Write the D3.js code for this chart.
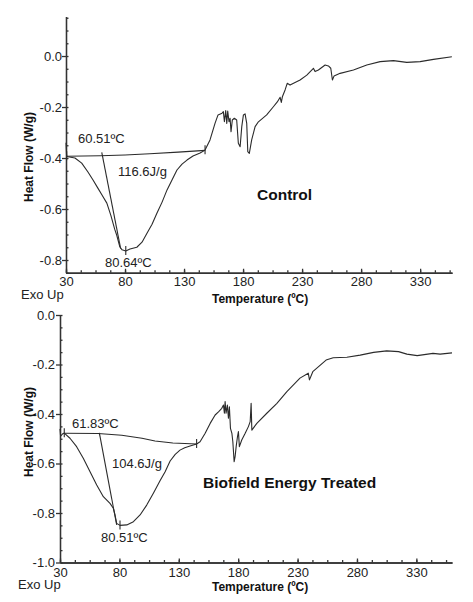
<!DOCTYPE html>
<html>
<head>
<meta charset="utf-8">
<script src="https://cdn.jsdelivr.net/npm/d3@7"></script>
<style>
  body { margin: 0; background: #fff; }
  svg { font-family: "Liberation Sans", Arial, sans-serif; }
  .axis path, .axis line { stroke: #333; stroke-width: 1.3; }
  .axis text { font-size: 13px; fill: #222; font-family: "Liberation Sans", Arial, sans-serif; }
  .curve { fill: none; stroke: #2b2b2b; stroke-width: 1.1; stroke-linejoin: round; }
  .note { font-size: 13px; fill: #222; }
  .title { font-size: 15.5px; font-weight: bold; fill: #111; }
  .axis-title { font-size: 12px; font-weight: bold; fill: #111; }
</style>
</head>
<body>
<div id="chart-area"></div>
<script>
// ---- DATA ----

let xTicks = [30, 80, 130, 180, 230, 280, 330];
let controlYTicks = [0.0, -0.2, -0.4, -0.6, -0.8];
let treatedYTicks = [0.0, -0.2, -0.4, -0.6, -0.8, -1.0];

// Control sample (temperature ºC, heat flow W/g)
let controlTemp = [30, 30.5, 31.7, 37.6, 43.3, 48.6, 52.9, 57.0, 60.5, 64.6, 68.0, 71.3, 73.0, 75.6, 77.5, 80.6,
  84.2, 90.0, 94.4, 98.6, 102.9, 107.0, 111.4, 115.6, 119.8, 124.0, 128.3, 132.5, 137.6, 143.6, 147.8,
  152.0, 156.3, 158.8, 162.2, 163.3, 164.2, 165.3, 166.2, 167.0, 168.1, 169.0, 169.8, 170.9, 172.6, 174.6,
  176.0, 177.5, 178.9, 180.3, 181.7, 183.1, 184.0, 185.3, 187.3, 190.2, 193.0, 200.0, 205.5, 209.0, 211.4,
  212.4, 213.3, 215.6, 217.4, 219.8, 228.3, 234.0, 239.6, 241.0, 243.8, 249.5, 252.3, 254.3, 255.7, 257.1,
  262.2, 273.5, 284.8, 296.1, 307.4, 318.7, 330.0, 341.3, 356.9];
let controlFlow = [-0.34, -0.392, -0.395, -0.400, -0.420, -0.455, -0.486, -0.518, -0.545, -0.577, -0.625, -0.680, -0.703, -0.748, -0.760, -0.765,
  -0.757, -0.750, -0.730, -0.695, -0.660, -0.617, -0.573, -0.525, -0.486, -0.447, -0.424, -0.408, -0.392, -0.380, -0.369,
  -0.329, -0.263, -0.231, -0.224, -0.218, -0.258, -0.214, -0.264, -0.216, -0.258, -0.244, -0.297, -0.251, -0.244, -0.251,
  -0.342, -0.356, -0.277, -0.231, -0.227, -0.264, -0.375, -0.382, -0.329, -0.277, -0.258, -0.231, -0.200, -0.180, -0.162,
  -0.182, -0.160, -0.133, -0.107, -0.114, -0.094, -0.075, -0.048, -0.061, -0.055, -0.035, -0.039, -0.048, -0.094, -0.078,
  -0.068, -0.055, -0.035, -0.022, -0.018, -0.025, -0.022, -0.013, -0.003];
let controlBaseTemp = [30.6, 59, 80, 101, 125, 147.8];
let controlBaseFlow = [-0.393, -0.391, -0.388, -0.383, -0.377, -0.370];
let controlTangentTemp = [60.3, 76.3];
let controlTangentFlow = [-0.378, -0.755];
let controlMarkTemp = [30.6, 147.8, 80.64];
let controlMarkFlow = [-0.393, -0.370, -0.765];
let controlNotes = ["60.51ºC", "116.6J/g", "80.64ºC"];

// Biofield Energy Treated sample
let treatedTemp = [30, 30.5, 32.0, 33.6, 38.4, 44.0, 49.6, 55.3, 60.9, 66.5, 72.1, 74.9, 76.3, 77.7, 80.5, 86.2,
  91.8, 97.4, 103.0, 108.6, 114.2, 118.5, 122.7, 127.0, 131.0, 135.0, 139.5, 145.0, 147.9, 152.2, 156.4,
  160.6, 163.4, 164.8, 166.2, 167.6, 168.4, 169.0, 169.8, 170.9, 171.8, 172.6, 173.5, 174.7, 175.5, 176.6,
  177.4, 178.3, 179.4, 180.2, 181.0, 183.0, 185.9, 188.6, 190.1, 190.9, 191.5, 195.7, 204.1, 212.6, 221.0,
  232.0, 239.0, 240.0, 242.8, 254.0, 260.0, 271.5, 282.7, 294.0, 305.0, 315.0, 322.0, 330.7, 344.0, 350.0, 360.0];
let treatedFlow = [-0.460, -0.490, -0.481, -0.477, -0.498, -0.532, -0.579, -0.633, -0.687, -0.734, -0.761, -0.781, -0.808, -0.842, -0.850, -0.848,
  -0.835, -0.808, -0.768, -0.720, -0.670, -0.633, -0.590, -0.563, -0.546, -0.536, -0.529, -0.521, -0.512, -0.478, -0.438,
  -0.404, -0.391, -0.384, -0.377, -0.364, -0.397, -0.350, -0.397, -0.364, -0.417, -0.371, -0.458, -0.478, -0.512, -0.593,
  -0.572, -0.532, -0.492, -0.471, -0.532, -0.505, -0.478, -0.451, -0.431, -0.357, -0.465, -0.438, -0.397, -0.357, -0.310,
  -0.255, -0.235, -0.262, -0.229, -0.182, -0.173, -0.171, -0.162, -0.151, -0.145, -0.148, -0.158, -0.164, -0.155, -0.158, -0.153];
let treatedBaseTemp = [33.6, 62, 82, 99, 110, 125, 145];
let treatedBaseFlow = [-0.478, -0.479, -0.486, -0.498, -0.509, -0.517, -0.521];
let treatedTangentTemp = [63.1, 77.7];
let treatedTangentFlow = [-0.476, -0.848];
let treatedMarkTemp = [33.6, 145, 80.51];
let treatedMarkFlow = [-0.478, -0.521, -0.850];
let treatedNotes = ["61.83ºC", "104.6J/g", "80.51ºC"];

// ---- LAYOUT ----

let panels = [
  {
    name: "Control",
    temp: controlTemp, flow: controlFlow,
    baseT: controlBaseTemp, baseF: controlBaseFlow,
    tanT: controlTangentTemp, tanF: controlTangentFlow,
    markT: controlMarkTemp, markF: controlMarkFlow,
    notes: controlNotes, yTicks: controlYTicks,
    xDomain: [30, 357], xRange: [66, 452],
    yDomain: [-0.85, 0.155], yRange: [272.75, 16.5],
    notePos: [[78, 143], [118, 176], [105, 267]],
    titlePos: [257, 200],
    yTitle: [33, 157], xTitle: [212, 303], exo: [21, 299],
    xPad: 4, yPad: 0
  },
  {
    name: "Biofield Energy Treated",
    temp: treatedTemp, flow: treatedFlow,
    baseT: treatedBaseTemp, baseF: treatedBaseFlow,
    tanT: treatedTangentTemp, tanF: treatedTangentFlow,
    markT: treatedMarkTemp, markF: treatedMarkFlow,
    notes: treatedNotes, yTicks: treatedYTicks,
    xDomain: [30, 360], xRange: [60, 452],
    yDomain: [-1.0, 0.0], yRange: [562.5, 315],
    notePos: [[72, 428], [112, 468], [101, 542]],
    titlePos: [203, 488],
    yTitle: [33, 432], xTitle: [212, 591], exo: [18, 589],
    xPad: 5, yPad: 1
  }
];

let svg = d3.select("#chart-area")
  .append("svg")
  .attr("width", 473)
  .attr("height", 602);

panels.forEach(function(p) {
  let x = d3.scaleLinear().domain(p.xDomain).range(p.xRange);
  let y = d3.scaleLinear().domain(p.yDomain).range(p.yRange);
  let g = svg.append("g");

  // minor ticks (4 per major step)
  let xMinor = d3.range(30, p.xDomain[1] + 0.01, 12.5);
  let yMinor = d3.range(Math.round(p.yDomain[0] * 20), Math.floor(p.yDomain[1] * 20 + 1e-6) + 1)
    .map(function(k) { return k / 20; });

  g.append("g")
    .attr("class", "axis")
    .attr("transform", "translate(0," + y.range()[0] + ")")
    .call(d3.axisBottom(x).tickValues(xMinor).tickSize(-2.5).tickSizeOuter(0).tickFormat(""));
  g.append("g")
    .attr("class", "axis")
    .attr("transform", "translate(0," + y.range()[0] + ")")
    .call(d3.axisBottom(x).tickValues(xTicks).tickSize(-4).tickSizeOuter(0).tickPadding(p.xPad)
      .tickFormat(function(d) { return d; }));

  g.append("g")
    .attr("class", "axis")
    .attr("transform", "translate(" + x.range()[0] + ",0)")
    .call(d3.axisLeft(y).tickValues(yMinor).tickSize(-2.5).tickSizeOuter(0).tickFormat(""));
  g.append("g")
    .attr("class", "axis")
    .attr("transform", "translate(" + x.range()[0] + ",0)")
    .call(d3.axisLeft(y).tickValues(p.yTicks).tickSize(4).tickSizeOuter(0).tickPadding(p.yPad)
      .tickFormat(function(d) { return d.toFixed(1); }));

  let line = d3.line()
    .x(function(d) { return x(d[0]); })
    .y(function(d) { return y(d[1]); });

  g.append("path").attr("class", "curve")
    .attr("d", line(d3.zip(p.temp, p.flow)));
  g.append("path").attr("class", "curve")
    .attr("d", line(d3.zip(p.baseT, p.baseF)));
  g.append("path").attr("class", "curve")
    .attr("d", line(d3.zip(p.tanT, p.tanF)));

  // small cross marks on integration limits and peak
  g.selectAll(".mark")
    .data(d3.zip(p.markT, p.markF))
    .enter()
    .append("line")
    .attr("class", "curve")
    .attr("x1", function(d) { return x(d[0]); })
    .attr("x2", function(d) { return x(d[0]); })
    .attr("y1", function(d) { return y(d[1]) - 5; })
    .attr("y2", function(d) { return y(d[1]) + 4; });

  g.selectAll(".note")
    .data(p.notes)
    .enter()
    .append("text")
    .attr("class", "note")
    .attr("x", function(d, i) { return p.notePos[i][0]; })
    .attr("y", function(d, i) { return p.notePos[i][1]; })
    .text(function(d) { return d; });

  g.append("text")
    .attr("class", "title")
    .attr("x", p.titlePos[0])
    .attr("y", p.titlePos[1])
    .text(p.name);

  g.append("text")
    .attr("class", "axis-title")
    .attr("transform", "translate(" + p.yTitle[0] + "," + p.yTitle[1] + ") rotate(-90)")
    .style("text-anchor", "middle")
    .text("Heat Flow (W/g)");

  g.append("text")
    .attr("class", "axis-title")
    .attr("x", p.xTitle[0])
    .attr("y", p.xTitle[1])
    .text("Temperature (ºC)");

  g.append("text")
    .attr("class", "note")
    .attr("x", p.exo[0])
    .attr("y", p.exo[1])
    .text("Exo Up");
});
</script>
</body>
</html>
